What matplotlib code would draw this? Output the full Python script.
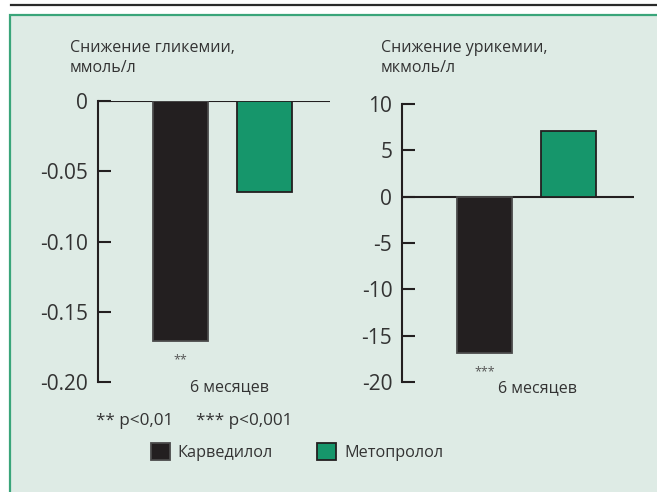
import matplotlib
matplotlib.use("Agg")
import matplotlib.pyplot as plt
from matplotlib.patches import Rectangle
from matplotlib.lines import Line2D

plt.rcParams['font.family'] = ['Open Sans', 'DejaVu Sans']

# ---- data ----
drugs = ['Карведилол', 'Метопролол']
glyc_values = [-0.171, -0.065]
uric_values = [-16.9, 7.1]
glyc_ticks = [0, -0.05, -0.10, -0.15, -0.20]
glyc_ticklabels = ['0', '-0.05', '-0.10', '-0.15', '-0.20']
uric_ticks = [10, 5, 0, -5, -10, -15, -20]
uric_ticklabels = ['10', '5', '0', '-5', '-10', '-15', '-20']
glyc_title = 'Снижение гликемии,\nммоль/л'
uric_title = 'Снижение урикемии,\nмкмоль/л'
period_label = '6 месяцев'
glyc_sig = '**'
uric_sig = '***'
footnotes = ['** p<0,01', '*** p<0,001']

colors = ['#231f20', '#16966b']
edge_colors = ['#4a4a4a', '#231f20']
text_color = '#333333'
bg = '#deebe5'

W, H = 657, 492
fig = plt.figure(figsize=(W / 100, H / 100), dpi=100)
fig.patch.set_facecolor('white')


def fx(x):
    return x / W


def fy(y):
    return 1 - y / H


# top rule and panel
fig.add_artist(Line2D([fx(11), fx(657)], [fy(5), fy(5)], color='#2a2a2a', lw=1.6,
                      transform=fig.transFigure))
fig.add_artist(Rectangle((fx(9.5), fy(500)), fx(700), fy(14.5) - fy(500),
                         transform=fig.transFigure, facecolor=bg,
                         edgecolor='#3aa57a', lw=1.6, zorder=0))


def make_axes(left_px, top_px, bottom_px, width_px):
    ax = fig.add_axes([fx(left_px), fy(bottom_px), fx(width_px),
                       (bottom_px - top_px) / H])
    ax.set_facecolor('none')
    for s in ['top', 'right', 'bottom']:
        ax.spines[s].set_visible(False)
    ax.spines['left'].set_color('#231f20')
    ax.spines['left'].set_linewidth(1.5)
    ax.tick_params(axis='y', direction='in', length=9, width=1.5, color='#231f20',
                   labelsize=15, labelcolor=text_color, pad=7)
    ax.set_xticks([])
    ax.set_xlim(-0.99, 1.79)
    return ax


# left chart
ax1 = make_axes(98, 101, 382, 232)
ax1.set_ylim(-0.20, 0)
ax1.set_yticks(glyc_ticks)
ax1.set_yticklabels(glyc_ticklabels)
ax1.axhline(0, color='#231f20', lw=1.5, zorder=1)
ax1.bar(range(len(drugs)), glyc_values, width=0.66, color=colors,
        edgecolor=edge_colors, lw=1.3, zorder=2)
ax1.annotate(glyc_sig, (0, glyc_values[0]), xytext=(0, -9), textcoords='offset points',
             ha='center', va='top', fontsize=9, color='#555555')

# right chart
ax2 = make_axes(402, 104, 382, 232)
ax2.set_ylim(-20, 10)
ax2.set_yticks(uric_ticks)
ax2.set_yticklabels(uric_ticklabels)
ax2.axhline(0, color='#231f20', lw=1.5, zorder=1)
bars = ax2.bar(range(len(drugs)), uric_values, width=0.66, color=colors,
               edgecolor=edge_colors, lw=1.3, zorder=2)
ax2.annotate(uric_sig, (0, uric_values[0]), xytext=(0, -9), textcoords='offset points',
             ha='center', va='top', fontsize=9, color='#555555')

# titles and labels
fig.text(fx(70), fy(40), glyc_title, ha='left', va='top', fontsize=11.5,
         color=text_color, linespacing=1.35)
fig.text(fx(381), fy(40), uric_title, ha='left', va='top', fontsize=11.5,
         color=text_color, linespacing=1.35)
fig.text(fx(229), fy(387), period_label, ha='center', va='center', fontsize=11.5,
         color=text_color)
fig.text(fx(537), fy(388), period_label, ha='center', va='center', fontsize=11.5,
         color=text_color)
fig.text(fx(96), fy(421), footnotes[0], ha='left', va='center', fontsize=12.3,
         color=text_color)
fig.text(fx(196), fy(421), footnotes[1], ha='left', va='center', fontsize=12.3,
         color=text_color)

leg = fig.legend(bars, drugs, loc='center left', bbox_to_anchor=(fx(151 - 7), fy(452)),
                 ncol=2, frameon=False, fontsize=11.7, handlelength=1.17,
                 handleheight=1.17, handletextpad=0.5, columnspacing=2.7,
                 borderaxespad=0, borderpad=0.4, labelcolor=text_color)

fig.savefig('out.png', dpi=100, facecolor=fig.get_facecolor())
